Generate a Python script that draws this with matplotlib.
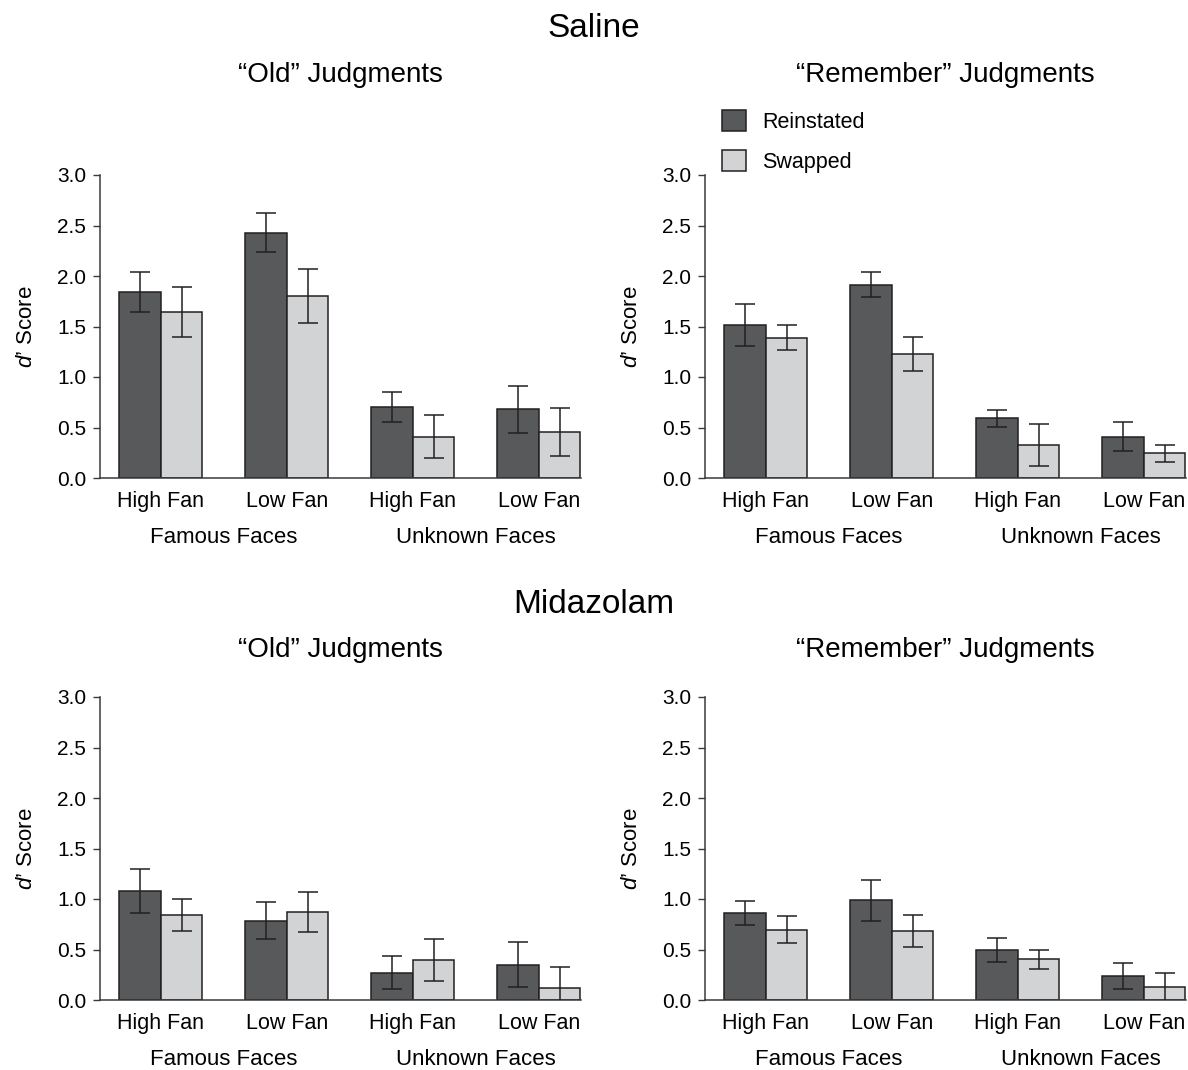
import matplotlib
matplotlib.use("Agg")
import matplotlib.pyplot as plt
from matplotlib import font_manager
from matplotlib.patches import Patch

have = {f.name for f in font_manager.fontManager.ttflist}
fam = 'Liberation Sans Narrow' if 'Liberation Sans Narrow' in have else 'Liberation Sans'
plt.rcParams['font.family'] = [fam, 'DejaVu Sans']
plt.rcParams['mathtext.fontset'] = 'custom'
plt.rcParams['mathtext.rm'] = fam
plt.rcParams['mathtext.it'] = fam + ':italic'

# data
fan_labels = ['High Fan', 'Low Fan', 'High Fan', 'Low Fan']
face_groups = ['Famous Faces', 'Unknown Faces']
series = ['Reinstated', 'Swapped']

saline_old_rein = [1.84, 2.43, 0.70, 0.68]
saline_old_rein_err = [0.20, 0.19, 0.15, 0.235]
saline_old_swap = [1.645, 1.80, 0.41, 0.455]
saline_old_swap_err = [0.25, 0.27, 0.21, 0.235]

saline_rem_rein = [1.515, 1.915, 0.59, 0.41]
saline_rem_rein_err = [0.205, 0.127, 0.083, 0.147]
saline_rem_swap = [1.39, 1.23, 0.327, 0.244]
saline_rem_swap_err = [0.12, 0.167, 0.21, 0.083]

mid_old_rein = [1.077, 0.787, 0.27, 0.35]
mid_old_rein_err = [0.22, 0.186, 0.165, 0.222]
mid_old_swap = [0.84, 0.873, 0.395, 0.115]
mid_old_swap_err = [0.157, 0.198, 0.209, 0.21]

mid_rem_rein = [0.863, 0.988, 0.491, 0.234]
mid_rem_rein_err = [0.117, 0.204, 0.118, 0.13]
mid_rem_swap = [0.698, 0.682, 0.402, 0.125]
mid_rem_swap_err = [0.133, 0.157, 0.094, 0.14]

yticks = [0.0, 0.5, 1.0, 1.5, 2.0, 2.5, 3.0]

dark = '#58595b'
light = '#d1d3d4'
edge = '#231f20'

W, H = 1188, 1070
fig = plt.figure(figsize=(W / 100, H / 100), dpi=100, facecolor='white')


def panel(left_px, top_px, rein, rein_err, swap, swap_err, title, title_pad):
    bottom_px = top_px + 303
    ax = fig.add_axes([left_px / W, 1 - bottom_px / H, 481 / W, 303 / H])
    w = 0.331
    x = list(range(len(rein)))
    ax.bar([i - w / 2 for i in x], rein, w, color=dark, edgecolor=edge, linewidth=1.1, zorder=2)
    ax.bar([i + w / 2 for i in x], swap, w, color=light, edgecolor=edge, linewidth=1.1, zorder=2)
    ax.errorbar([i - w / 2 for i in x], rein, yerr=rein_err, fmt='none', ecolor=edge,
                elinewidth=1.1, capsize=7.5, capthick=1.1, zorder=3)
    ax.errorbar([i + w / 2 for i in x], swap, yerr=swap_err, fmt='none', ecolor=edge,
                elinewidth=1.1, capsize=7.5, capthick=1.1, zorder=3)
    ax.set_xlim(-0.482, 3.335)
    ax.set_ylim(0, 3)
    ax.set_yticks(yticks)
    ax.set_yticklabels(['%.1f' % v for v in yticks])
    ax.set_xticks(x)
    ax.set_xticklabels(fan_labels, fontsize=15.5)
    for lab in ax.get_xticklabels():
        lab.set_verticalalignment('baseline')
    ax.tick_params(axis='x', length=0, pad=21)
    ax.tick_params(axis='y', length=5, width=1.0, color='#3a3a3a', labelsize=15, pad=5)
    for s in ['top', 'right']:
        ax.spines[s].set_visible(False)
    for s in ['left', 'bottom']:
        ax.spines[s].set_color('#3a3a3a')
        ax.spines[s].set_linewidth(1.1)
    for k, g in enumerate(face_groups):
        ax.annotate(g, xy=(2 * k + 0.5, 0), xycoords=('data', 'axes fraction'),
                    xytext=(0, -47), textcoords='offset points',
                    ha='center', va='baseline', fontsize=16)
    ax.set_ylabel("$d$’ Score", fontsize=16)
    ax.yaxis.set_label_coords(-0.13, 0.5)
    ax.set_title(title, fontsize=20, pad=title_pad)
    return ax


ax1 = panel(100, 175, saline_old_rein, saline_old_rein_err, saline_old_swap, saline_old_swap_err,
            '“Old” Judgments', 67)
ax2 = panel(705, 175, saline_rem_rein, saline_rem_rein_err, saline_rem_swap, saline_rem_swap_err,
            '“Remember” Judgments', 67)
ax3 = panel(100, 697, mid_old_rein, mid_old_rein_err, mid_old_swap, mid_old_swap_err,
            '“Old” Judgments', 29)
ax4 = panel(705, 697, mid_rem_rein, mid_rem_rein_err, mid_rem_swap, mid_rem_swap_err,
            '“Remember” Judgments', 29)

fig.text(0.5, 1 - 37 / H, 'Saline', ha='center', va='baseline', fontsize=24)
fig.text(0.5, 1 - 613 / H, 'Midazolam', ha='center', va='baseline', fontsize=24)

handles = [Patch(facecolor=dark, edgecolor=edge, linewidth=1.1),
           Patch(facecolor=light, edgecolor=edge, linewidth=1.1)]
ax2.legend(handles, series, loc='upper left', bbox_to_anchor=(722 / W, 1 - 110 / H),
           bbox_transform=fig.transFigure, frameon=False, fontsize=15.5,
           handlelength=1.1, handleheight=1.1, handletextpad=0.75,
           labelspacing=0.8, borderpad=0, borderaxespad=0)

fig.savefig('out.png', dpi=100)
